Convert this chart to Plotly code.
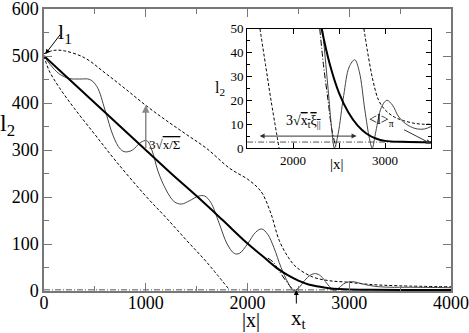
import plotly.graph_objects as go

# main panel: values
l1_x = [0, 250, 500, 750, 1000, 1250, 1500, 1750, 2000, 2150, 2300, 2400, 2500, 2600,
        2700, 2800, 2900, 3000, 3200, 3500, 4000]
l1_y = [500, 450, 400, 350, 300, 250, 202, 152, 101, 74, 47, 33, 22, 14,
        9.5, 6, 4, 3, 2.5, 2.3, 2.2]

l2_x = [0, 60, 150, 250, 350, 450, 520, 600, 680, 750, 800, 870, 950, 1010, 1060, 1120,
        1200, 1280, 1350, 1430, 1520, 1580, 1640, 1720, 1800, 1870, 1920, 2000, 2080,
        2140, 2200, 2260, 2330, 2400, 2450, 2500, 2560, 2620, 2670, 2720, 2780, 2830,
        2860, 2900, 2960, 3020, 3080, 3150, 3250, 3400, 3600, 4000]
l2_y = [500, 482, 462, 452, 451, 450, 435, 385, 330, 302, 296, 300, 316, 320, 300, 255,
        215, 190, 185, 192, 202, 202, 188, 145, 100, 80, 80, 100, 125,
        132, 120, 92, 50, 17, 1, 6, 22, 34, 37, 32, 16, 4,
        0, 7, 17, 20, 18, 14, 10, 8, 8, 7]

upper_x = [0, 100, 200, 400, 600, 800, 1000, 1200, 1400, 1600, 1825, 2000, 2100, 2150,
           2230, 2313, 2400, 2478, 2640, 2800, 2970, 3200, 3500, 4000]
upper_y = [505, 512, 511, 496, 464, 430, 395, 363, 333, 303, 261, 238, 220, 206,
           165, 107, 72, 51, 30, 22, 19, 14, 11, 9]

lower_x = [0, 50, 150, 300, 500, 708, 1000, 1200, 1400, 1600, 1824]
lower_y = [500, 469, 433, 388, 333, 276, 202, 156, 108, 61, 2]

xt_x = [2200, 2250, 2290, 2350, 2400, 2450, 2480]
xt_y = [70, 62, 50, 30, 15, 3, 0]

base_x = [0, 4000]
base_y = [2.5, 2.5]

# inset panel
in_l1_x = [2310, 2400, 2500, 2600, 2700, 2800, 2900, 3000, 3200, 3500]
in_l1_y = [50, 35, 23, 15, 9.5, 6, 4, 3, 2.6, 2.4]

in_l2_x = [2320, 2380, 2420, 2450, 2490, 2550, 2610, 2670, 2720, 2780, 2830, 2860,
           2900, 2960, 3020, 3080, 3150, 3250, 3350, 3430, 3500]
in_l2_y = [50, 25, 8, 0, 6, 22, 34, 37, 32, 16, 4, 0,
           7, 17, 20, 18, 13, 9.5, 8, 8, 9]

in_upper_x = [2770, 2820, 2870, 2930, 3000, 3100, 3200, 3300, 3400, 3500]
in_upper_y = [50, 38, 28, 20, 16, 13, 11.5, 10.5, 10, 10]

in_lower_x = [1640, 1700, 1760, 1848]
in_lower_y = [50, 35, 20, 0]

in_xt_x = [2290, 2330, 2380, 2420, 2455, 2470]
in_xt_y = [50, 35, 20, 8, 2, 0]

in_base_x = [1500, 3500]
in_base_y = [2.5, 2.5]

SERIF = "Liberation Serif"
DASH = "3px,2px"
DASHDOT = "6px,2px,1px,2px"

fig = go.Figure()

def add(x, y, color="black", width=1, dash="solid", xa="x", ya="y", shape="spline"):
    fig.add_trace(go.Scatter(x=x, y=y, mode="lines", xaxis=xa, yaxis=ya,
                             line=dict(color=color, width=width, dash=dash, shape=shape),
                             showlegend=False, hoverinfo="skip"))

add(base_x, base_y, color="#555", dash=DASHDOT, shape="linear")
add(upper_x, upper_y, dash=DASH)
add(lower_x, lower_y, dash=DASH)
add(xt_x, xt_y, dash=DASHDOT)
add(l2_x, l2_y, color="#444", width=1)
add(l1_x, l1_y, width=2)

add(in_base_x, in_base_y, color="#555", dash=DASHDOT, xa="x2", ya="y2", shape="linear")
add(in_lower_x, in_lower_y, dash=DASH, xa="x2", ya="y2")
add(in_upper_x, in_upper_y, dash=DASH, xa="x2", ya="y2")
add(in_xt_x, in_xt_y, dash=DASHDOT, xa="x2", ya="y2")
add(in_l2_x, in_l2_y, color="#444", xa="x2", ya="y2")
add(in_l1_x, in_l1_y, width=2, xa="x2", ya="y2")

main_ax = dict(showline=True, linecolor="#777", linewidth=1.5, mirror="allticks",
               ticks="inside", ticklen=8, tickcolor="#777", showgrid=False, zeroline=False,
               automargin=False, ticklabeloverflow="allow",
               tickfont=dict(family=SERIF, size=18, color="black"))
inset_ax = dict(showline=True, linecolor="black", linewidth=1.2, mirror="allticks",
                ticks="inside", ticklen=5, tickcolor="black", showgrid=False, zeroline=False,
                automargin=False, ticklabeloverflow="allow",
                tickfont=dict(family=SERIF, size=13, color="black"))

fig.update_layout(
    width=469, height=333,
    margin=dict(l=44, r=18, t=9, b=42, autoexpand=False),
    paper_bgcolor="white", plot_bgcolor="white",
    xaxis=dict(main_ax, range=[0, 4000], dtick=1000, ticklabelstandoff=-5,
               minor=dict(ticks="inside", dtick=500, ticklen=5, tickcolor="#777")),
    yaxis=dict(main_ax, range=[0, 600], dtick=100,
               minor=dict(ticks="inside", dtick=50, ticklen=5, tickcolor="#777")),
    xaxis2=dict(inset_ax, range=[1500, 3500], dtick=1000, anchor="y2",
                domain=[0.499, 0.951],
                minor=dict(ticks="inside", dtick=500, ticklen=5, tickcolor="black")),
    yaxis2=dict(inset_ax, range=[0, 50], dtick=10, anchor="x2",
                domain=[0.507, 0.93],
                minor=dict(ticks="inside", dtick=5, ticklen=3, tickcolor="black")),
)

txt = dict(family=SERIF, color="black")
OVER = "<span style='text-decoration:overline;color:black'>"
C = dict(xanchor="center", yanchor="middle", showarrow=False)
ann = [
    # axis titles
    dict(C, xref="paper", yref="paper", x=0.509, y=-0.105, text="|x|",
         font=dict(txt, size=20)),
    dict(C, xref="paper", yref="paper", x=-0.09, y=0.59, text="l<sub>2</sub>",
         font=dict(txt, size=24)),
    dict(C, xref="paper", yref="paper", x=0.625, y=-0.098, text="x<sub>t</sub>",
         font=dict(txt, size=21)),
    dict(C, xref="paper", yref="paper", x=0.72, y=0.45, text="|x|",
         font=dict(txt, size=15)),
    dict(C, xref="paper", yref="paper", x=0.432, y=0.718, text="l<sub>2</sub>",
         font=dict(txt, size=16)),
    # l1 label + arrow
    dict(C, x=210, y=549, text="l<sub>1</sub>", font=dict(txt, size=22)),
    dict(x=13, y=504, ax=16, ay=-21, text="", showarrow=True, arrowhead=2, arrowsize=1,
         arrowwidth=1, arrowcolor="black"),
    # x_t arrow
    dict(x=2480, y=2, ax=0, ay=15, text="", showarrow=True, arrowhead=2, arrowsize=1,
         arrowwidth=1, arrowcolor="black"),
    # 3 sqrt(x/Sigma)
    dict(x=1000, y=395, ax=1000, ay=301, axref="x", ayref="y", text="", showarrow=True,
         arrowhead=2, arrowsize=1, arrowwidth=1.5, arrowcolor="#888"),
    dict(x=1010, y=312, text="3√" + OVER + "x/Σ</span>", yanchor="middle",
         showarrow=False, xanchor="left", font=dict(txt, size=13)),
    # inset annotations
    dict(x=2690, y=5, ax=1620, ay=5, xref="x2", yref="y2", axref="x2", ayref="y2", text="",
         showarrow=True, arrowhead=2, arrowside="end+start", arrowsize=1, arrowwidth=1,
         arrowcolor="#333"),
    dict(C, x=2110, y=11, xref="x2", yref="y2",
         text="3√" + OVER + "x<sub>t</sub>ξ<sub>||</sub></span>",
         font=dict(txt, size=14)),
    dict(C, x=2960, y=11.5, xref="x2", yref="y2", text="&lt;l&gt;<sub>π</sub>",
         font=dict(txt, size=14)),
    dict(x=3500, y=1.8, ax=3190, ay=8, xref="x2", yref="y2", axref="x2", ayref="y2", text="",
         showarrow=True, arrowhead=2, arrowsize=1, arrowwidth=1, arrowcolor="#333"),
]
fig.update_layout(annotations=ann)

fig.write_html("out.html", config={"displayModeBar": False},
               post_script="document.body.style.margin='0';")
